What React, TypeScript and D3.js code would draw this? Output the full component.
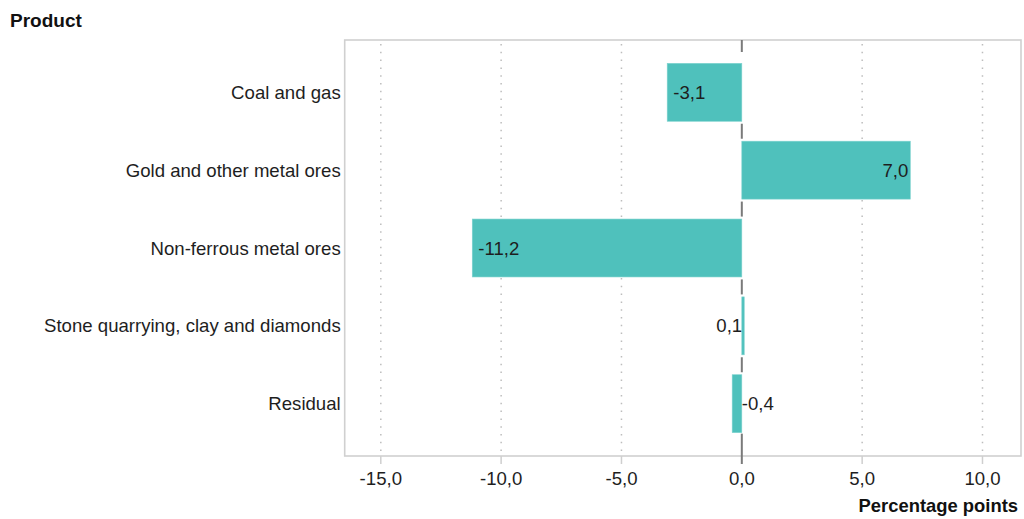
import React from "react";
import * as d3 from "d3";

const categories = [
  "Coal and gas",
  "Gold and other metal ores",
  "Non-ferrous metal ores",
  "Stone quarrying, clay and diamonds",
  "Residual",
];
const values = [-3.1, 7.0, -11.2, 0.1, -0.4];
const xTicks = [-15, -10, -5, 0, 5, 10];
const xDomain = [-16.5, 11.6];
const yTitle = "Product";
const xTitle = "Percentage points";

const W = 1024;
const H = 519;
const L = 344.7;
const R = 1021;
const T = 40;
const B = 456;
const FONT = "'Liberation Sans', Arial, sans-serif";
const FS = 18.6;

const loc = d3.formatLocale({
  decimal: ",",
  thousands: " ",
  grouping: [3],
  currency: ["", ""],
  minus: "-",
});
const fmt = loc.format(".1f");

export default function App() {
  const x = d3.scaleLinear().domain(xDomain).range([L, R]);
  const y = d3
    .scaleBand<string>()
    .domain(categories)
    .range([T, B])
    .paddingInner(0.256)
    .paddingOuter(0.3);
  const bw = y.bandwidth();
  const x0 = x(0);

  const segs: [number, number][] = [];
  for (let i = 0; i <= categories.length; i++) {
    const gs = i === 0 ? T : (y(categories[i - 1]) as number) + bw;
    const ge = i === categories.length ? B : (y(categories[i]) as number);
    if (i === 0) segs.push([T, T + 12]);
    else if (i === categories.length) segs.push([gs + 1, B + 8]);
    else {
      const c = (gs + ge) / 2;
      segs.push([c - 7.5, c + 7.5]);
    }
  }

  return (
    <svg
      width={W}
      height={H}
      style={{ position: "absolute", left: 0, top: 0, background: "#fff" }}
      fontFamily={FONT}
    >
      <rect x={0} y={0} width={W} height={H} fill="#fff" />
      {xTicks
        .filter((t) => t !== 0)
        .map((t) => (
          <line
            key={"g" + t}
            x1={x(t)}
            x2={x(t)}
            y1={T + 4}
            y2={B}
            stroke="#bdbdbd"
            strokeWidth={1.5}
            strokeDasharray="1.5 6.3"
          />
        ))}
      <rect
        x={L}
        y={T}
        width={R - L}
        height={B - T}
        fill="none"
        stroke="#d0d0d0"
        strokeWidth={1.6}
      />
      {xTicks
        .filter((t) => t !== 0)
        .map((t) => (
          <line
            key={"t" + t}
            x1={x(t)}
            x2={x(t)}
            y1={B}
            y2={B + 8}
            stroke="#cfcfcf"
            strokeWidth={1.5}
          />
        ))}
      {segs.map((s, i) => (
        <line
          key={"z" + i}
          x1={x0}
          x2={x0}
          y1={s[0]}
          y2={s[1]}
          stroke="#7a7a7a"
          strokeWidth={2}
        />
      ))}
      {categories.map((c, i) => {
        const v = values[i];
        const xa = Math.min(x(v), x0);
        const w = Math.abs(x(v) - x0);
        return (
          <rect
            key={"b" + c}
            x={xa}
            y={y(c)}
            width={w}
            height={bw}
            fill="#4fc1bc"
            stroke="#7dd2ce"
            strokeWidth={0.6}
          />
        );
      })}
      {categories.map((c, i) => {
        const v = values[i];
        const cy = (y(c) as number) + bw / 2;
        const w = Math.abs(x(v) - x0);
        const fits = w > 50;
        let tx: number;
        let anchor: "start" | "end";
        if (v >= 0) {
          tx = x(v) - 2;
          anchor = "end";
        } else if (fits) {
          tx = x(v) + 6;
          anchor = "start";
        } else {
          tx = x0;
          anchor = "start";
        }
        return (
          <text
            key={"v" + c}
            x={tx}
            y={cy}
            dy="0.35em"
            textAnchor={anchor}
            fontSize={FS}
            fill="#1e1e1e"
          >
            {fmt(v)}
          </text>
        );
      })}
      {categories.map((c) => (
        <text
          key={"c" + c}
          x={L - 4}
          y={(y(c) as number) + bw / 2}
          dy="0.35em"
          textAnchor="end"
          fontSize={FS}
          fill="#1e1e1e"
        >
          {c}
        </text>
      ))}
      {xTicks.map((t) => (
        <text
          key={"l" + t}
          x={x(t)}
          y={478}
          dy="0.35em"
          textAnchor="middle"
          fontSize={FS}
          fill="#1e1e1e"
        >
          {fmt(t)}
        </text>
      ))}
      <text x={10} y={20} dy="0.35em" fontSize={19} fontWeight="bold" fill="#111">
        {yTitle}
      </text>
      <text
        x={1018}
        y={506}
        dy="0.35em"
        textAnchor="end"
        fontSize={18.4}
        fontWeight="bold"
        fill="#111"
      >
        {xTitle}
      </text>
    </svg>
  );
}
